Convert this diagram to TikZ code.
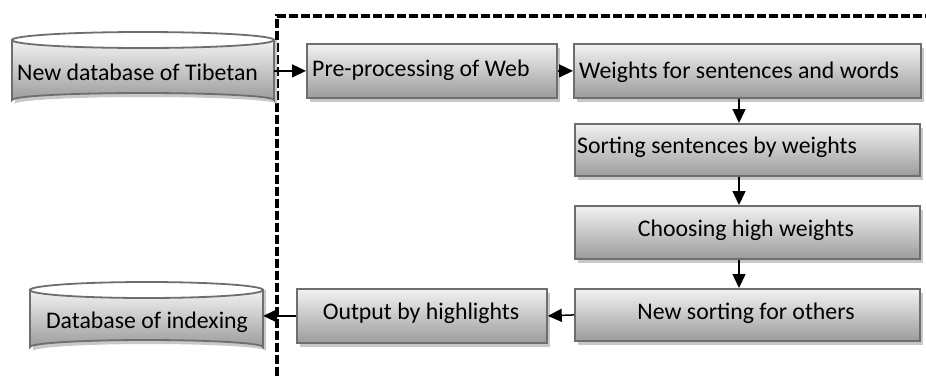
\documentclass[tikz,border=0pt]{standalone}
\usepackage{fontspec}
\setmainfont{Carlito}
\usetikzlibrary{arrows.meta,shadows,calc}

\definecolor{edgegray}{HTML}{6E6E6E}
\definecolor{shadegray}{HTML}{9C9C9C}
\definecolor{shadowgray}{HTML}{C8C8C8}

\tikzset{
  procbox/.style={draw=edgegray, line width=1.8pt, rectangle, inner sep=0pt,
    top color=white!95!black, bottom color=shadegray,
    drop shadow={shadow xshift=3pt, shadow yshift=-4pt, fill=shadowgray, opacity=1}},
  lbl/.style={font=\fontsize{23.8}{27}\selectfont, inner sep=0pt, text=black},
  flow/.style={line width=1.5pt, -{Triangle[length=14pt,width=13pt]}},
  frame/.style={line width=3.2pt, dash pattern=on 9pt off 3pt},
  cylbody/.style={draw=edgegray, line width=1.8pt, top color=white!95!black, bottom color=shadegray},
  cyltop/.style={draw=edgegray, line width=1.8pt, fill=white},
}

% cylinder: #1 left, #2 right, #3 top-ellipse centre y, #4 bottom y at sides, #5 name
\newcommand{\dbcyl}[5]{%
  \pgfmathsetmacro{\cx}{(#1+#2)/2}%
  \pgfmathsetmacro{\rx}{(#2-#1)/2}%
  \fill[shadowgray] (#1+3,#3) -- (#1+3,#4+4) arc[start angle=180,end angle=360,x radius=\rx,y radius=7] -- (#2+3,#3) -- cycle;
  \path[cylbody] (#1,#3) -- (#1,#4) arc[start angle=180,end angle=360,x radius=\rx,y radius=7] -- (#2,#3) -- cycle;
  \path[cyltop] (\cx,#3) ellipse[x radius=\rx,y radius=8];
  \node[inner sep=0pt, minimum width=#2-#1, minimum height=#4-#3] (#5) at (\cx,{(#3+#4)/2+4}) {};
}

\begin{document}
\begin{tikzpicture}[x=1pt,y=-1pt]
\useasboundingbox (0,0) rectangle (926,376);

% boundary of the processing stage
\draw[frame] (277,376) -- (277,16) -- (926,16);

% databases
\dbcyl{12}{274}{40}{100}{tib}
\dbcyl{30}{263}{290}{347}{idx}
\node[lbl, anchor=base west] (tibt) at (17,80) {New database of Tibetan};
\node[lbl, anchor=base] (idxt) at (147,328) {Database of indexing};

% processing steps
\node[procbox, minimum width=250pt, minimum height=54pt, anchor=north west] (pre) at (306,43) {};
\node[procbox, minimum width=347pt, minimum height=54pt, anchor=north west] (wts) at (573,43) {};
\node[procbox, minimum width=345pt, minimum height=52pt, anchor=north west] (srt) at (574,123) {};
\node[procbox, minimum width=345pt, minimum height=53pt, anchor=north west] (cho) at (574,205) {};
\node[procbox, minimum width=345pt, minimum height=52pt, anchor=north west] (nso) at (574,288) {};
\node[procbox, minimum width=250pt, minimum height=54pt, anchor=north west] (out) at (296,288) {};

\node[lbl, anchor=base west] (pret) at (312,76) {Pre-processing of Web};
\node[lbl, anchor=base west] (wtst) at (579,78) {Weights for sentences and words};
\node[lbl, anchor=base west] (srtt) at (577,153) {Sorting sentences by weights};
\node[lbl, anchor=base] (chot) at (746,236) {Choosing high weights};
\node[lbl, anchor=base] (nsot) at (746,319) {New sorting for others};
\node[lbl, anchor=base] (outt) at (421,319) {Output by highlights};

% vertical flow line of the right-hand column
\coordinate (col) at (739,0);

% connectors
\draw[flow] (tib.east |- pre.west) -- (pre.west);
\draw[flow] (pre.east) -- (wts.west);
\draw[flow] (wts.south -| col) -- (srt.north -| col);
\draw[flow] (srt.south -| col) -- (cho.north -| col);
\draw[flow] (cho.south -| col) -- (nso.north -| col);
\draw[flow] (nso.west) -- (out.east);
\draw[flow] (out.west) -- (idx.east |- out.west);
\end{tikzpicture}
\end{document}
